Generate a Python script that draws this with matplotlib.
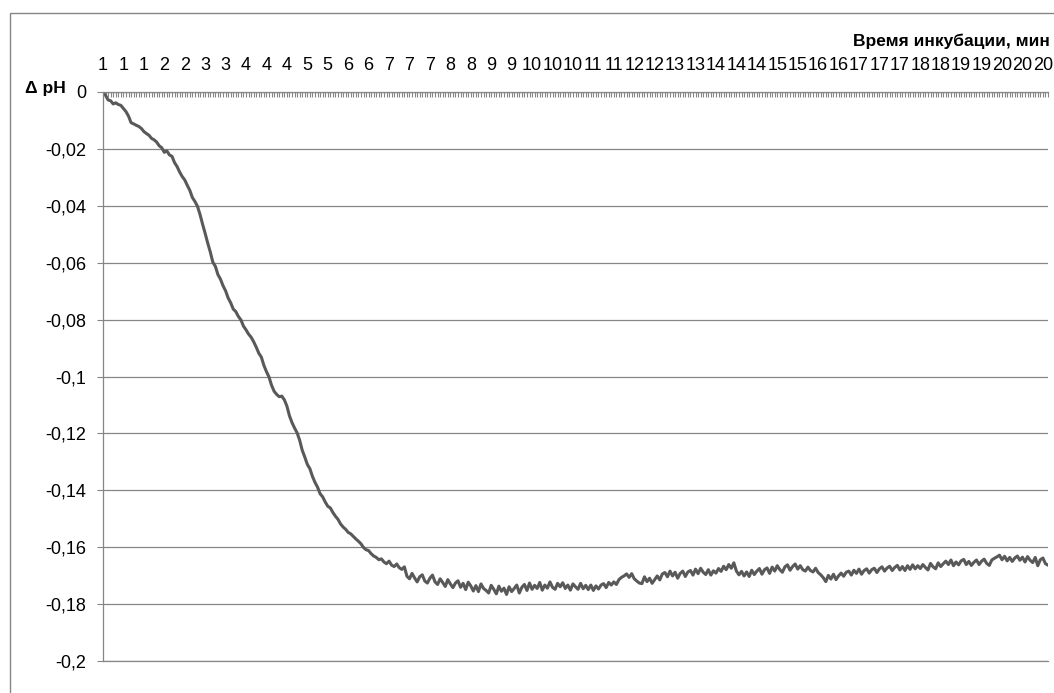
import matplotlib
matplotlib.use("Agg")
import matplotlib.pyplot as plt
from matplotlib.ticker import MultipleLocator, FixedLocator, FuncFormatter
from matplotlib.patches import Rectangle

# -------------------------------------------------
# Data: delta pH, one value per reading (~3.2 s step)
# -------------------------------------------------
dph = [
    0.0, -0.0012, -0.0028, -0.0031, -0.0042, -0.0038, -0.0044, -0.0047, -0.0058, -0.0069,
    -0.0085, -0.0108, -0.0112, -0.0117, -0.0121, -0.0128, -0.0139, -0.0146, -0.0152, -0.0163,
    -0.0168, -0.0176, -0.0189, -0.0196, -0.0212, -0.0207, -0.0221, -0.0226, -0.0248, -0.0262,
    -0.0281, -0.0297, -0.0309, -0.0328, -0.0346, -0.0371, -0.0385, -0.0402, -0.0431, -0.0465,
    -0.0497, -0.0531, -0.0562, -0.0598, -0.0613, -0.0642, -0.0658, -0.0681, -0.0699, -0.0724,
    -0.0741, -0.0763, -0.0772, -0.0789, -0.0801, -0.0823, -0.0836, -0.0851, -0.0862, -0.0878,
    -0.0897, -0.0918, -0.0932, -0.0961, -0.0983, -0.1002, -0.1031, -0.1052, -0.1063, -0.1071,
    -0.1069, -0.1082, -0.1104, -0.1138, -0.1162, -0.1181, -0.1198, -0.1224, -0.1259, -0.1283,
    -0.1309, -0.1324, -0.1351, -0.1372, -0.1389, -0.1412, -0.1423, -0.1441, -0.1456, -0.1462,
    -0.1478, -0.1491, -0.1502, -0.1518, -0.1529, -0.1537, -0.1548, -0.1553, -0.1562, -0.1571,
    -0.1579, -0.1588, -0.1601, -0.1609, -0.1612, -0.1623, -0.1631, -0.1636, -0.1644, -0.1641,
    -0.1652, -0.1658, -0.1649, -0.1663, -0.1668, -0.1659, -0.1672, -0.1678, -0.1669, -0.1702,
    -0.1711, -0.1692, -0.1708, -0.1722, -0.1704, -0.1697, -0.1719, -0.1726, -0.1709, -0.1698,
    -0.1722, -0.1731, -0.1711, -0.1724, -0.1738, -0.1714, -0.1729, -0.1742, -0.1726, -0.1718,
    -0.1741, -0.1727, -0.1749, -0.1723, -0.1736, -0.1754, -0.1735, -0.1756, -0.1729, -0.1745,
    -0.1752, -0.1761, -0.1734, -0.1748, -0.1764, -0.1737, -0.1755, -0.1744, -0.1766, -0.1739,
    -0.1756, -0.1745, -0.1733, -0.1761, -0.1741, -0.1731, -0.1752, -0.1726, -0.1748, -0.1734,
    -0.1745, -0.1724, -0.1751, -0.1733, -0.1744, -0.1722, -0.1741, -0.1748, -0.1727, -0.1739,
    -0.1725, -0.1745, -0.1733, -0.1751, -0.1729, -0.1739, -0.1748, -0.1727, -0.1746, -0.1734,
    -0.1749, -0.1733, -0.1752, -0.1736, -0.1747, -0.1733, -0.1728, -0.1742, -0.1724, -0.1733,
    -0.1722, -0.1731, -0.1714, -0.1706, -0.1701, -0.1694, -0.1706, -0.1693, -0.1711, -0.1719,
    -0.1726, -0.1728, -0.1704, -0.1721, -0.1709, -0.1727, -0.1714, -0.1701, -0.1715, -0.1694,
    -0.1689, -0.1704, -0.1684, -0.1701, -0.1688, -0.1709, -0.1692, -0.1684, -0.1703, -0.1687,
    -0.1682, -0.1698, -0.1677, -0.1693, -0.1674, -0.1688, -0.1696, -0.1679, -0.1698, -0.1683,
    -0.1691, -0.1675, -0.1685, -0.1667, -0.1679, -0.1661, -0.1674, -0.1655, -0.1684, -0.1697,
    -0.1685, -0.1701, -0.1687, -0.1703, -0.1681, -0.1696, -0.1684, -0.1675, -0.1695, -0.1679,
    -0.1673, -0.1692, -0.1670, -0.1684, -0.1665, -0.1679, -0.1688, -0.1669, -0.1662, -0.1681,
    -0.1668, -0.1659, -0.1677, -0.1665, -0.1679, -0.1684, -0.1670, -0.1682, -0.1687, -0.1674,
    -0.1689, -0.1697, -0.1707, -0.1721, -0.1699, -0.1712, -0.1695, -0.1714, -0.1701, -0.1691,
    -0.1702, -0.1688, -0.1684, -0.1698, -0.1681, -0.1692, -0.1677, -0.1695, -0.1682, -0.1676,
    -0.1691, -0.1679, -0.1674, -0.1689, -0.1676, -0.1669, -0.1684, -0.1673, -0.1667, -0.1682,
    -0.1671, -0.1664, -0.1680, -0.1668, -0.1682, -0.1665, -0.1678, -0.1662, -0.1676, -0.1665,
    -0.1675, -0.1661, -0.1671, -0.1680, -0.1657, -0.1669, -0.1676, -0.1655, -0.1668, -0.1658,
    -0.1649, -0.1661, -0.1645, -0.1665, -0.1652, -0.1662, -0.1648, -0.1643, -0.1661, -0.1650,
    -0.1664, -0.1653, -0.1645, -0.1661, -0.1649, -0.1642, -0.1657, -0.1664, -0.1645, -0.1639,
    -0.1634, -0.1628, -0.1644, -0.1632, -0.1648, -0.1636, -0.1650, -0.1638, -0.1631, -0.1646,
    -0.1635, -0.1652, -0.1633, -0.1646, -0.1654, -0.1636, -0.1665, -0.1644, -0.1638, -0.1658,
    -0.1663,
]

# category labels shown every 8th reading (time, min, rounded)
time_labels = [
    "1", "1", "1", "2", "2", "3", "3", "4", "4", "4", "5", "5", "6", "6", "7", "7",
    "7", "8", "8", "9", "9", "10", "10", "10", "11", "11", "12", "12", "13", "13",
    "14", "14", "14", "15", "15", "16", "16", "17", "17", "17", "18", "18", "19",
    "19", "20", "20", "20",
]
label_step = 8

y_ticks = [0, -0.02, -0.04, -0.06, -0.08, -0.1, -0.12, -0.14, -0.16, -0.18, -0.2]

# -------------------------------------------------
# Plot
# -------------------------------------------------
plt.rcParams["font.family"] = ["Liberation Sans", "DejaVu Sans"]
axis_grey = "#868686"

fig = plt.figure(figsize=(10.54, 6.93), dpi=100)
ax = fig.add_axes([103 / 1054, 1 - 661 / 693, 945 / 1054, 569 / 693])

ax.plot(range(len(dph)), dph, color="#595959", lw=2.2, solid_joinstyle="round")

ax.set_xlim(0, len(dph) - 1)
ax.set_ylim(-0.2, 0)

# category axis sits on top (crosses at 0)
ax.xaxis.tick_top()
ax.xaxis.set_major_locator(FixedLocator(range(0, len(dph), label_step)[:len(time_labels)]))
ax.set_xticklabels(time_labels)
ax.xaxis.set_minor_locator(MultipleLocator(1))
ax.tick_params(axis="x", which="both", direction="in", length=3.8, width=0.8,
               color=axis_grey, top=True, bottom=False)
ax.tick_params(axis="x", which="major", pad=13, labelsize=13, labelcolor="black")

ax.set_yticks(y_ticks)
ax.yaxis.set_major_formatter(FuncFormatter(
    lambda v, pos: "0" if abs(v) < 1e-9 else ("%g" % round(v, 2)).replace(".", ",")))
ax.tick_params(axis="y", direction="out", length=4.5, width=0.8, color=axis_grey,
               pad=7.5, labelsize=13)

ax.yaxis.grid(True, color=axis_grey, lw=0.9)
ax.set_axisbelow(True)
for side in ["left", "top", "bottom"]:
    ax.spines[side].set_color(axis_grey)
    ax.spines[side].set_linewidth(0.9)
ax.spines["right"].set_visible(False)

fig.text(25 / 1054, 1 - 89 / 693, "\u0394 pH", fontsize=12.5, fontweight="bold",
         ha="left", va="center")
fig.text(1050 / 1054, 1 - 41 / 693, "Время инкубации, мин", fontsize=12.5,
         fontweight="bold", ha="right", va="center")

# chart-area border (cut at right/bottom edges)
fig.patches.append(Rectangle((9.5 / 1054, -0.05), 1.1, 1 - 12.5 / 693 + 0.05,
                             transform=fig.transFigure, fill=False,
                             edgecolor=axis_grey, lw=1.0, clip_on=False))

fig.savefig("out.png", dpi=100)
plt.close(fig)
